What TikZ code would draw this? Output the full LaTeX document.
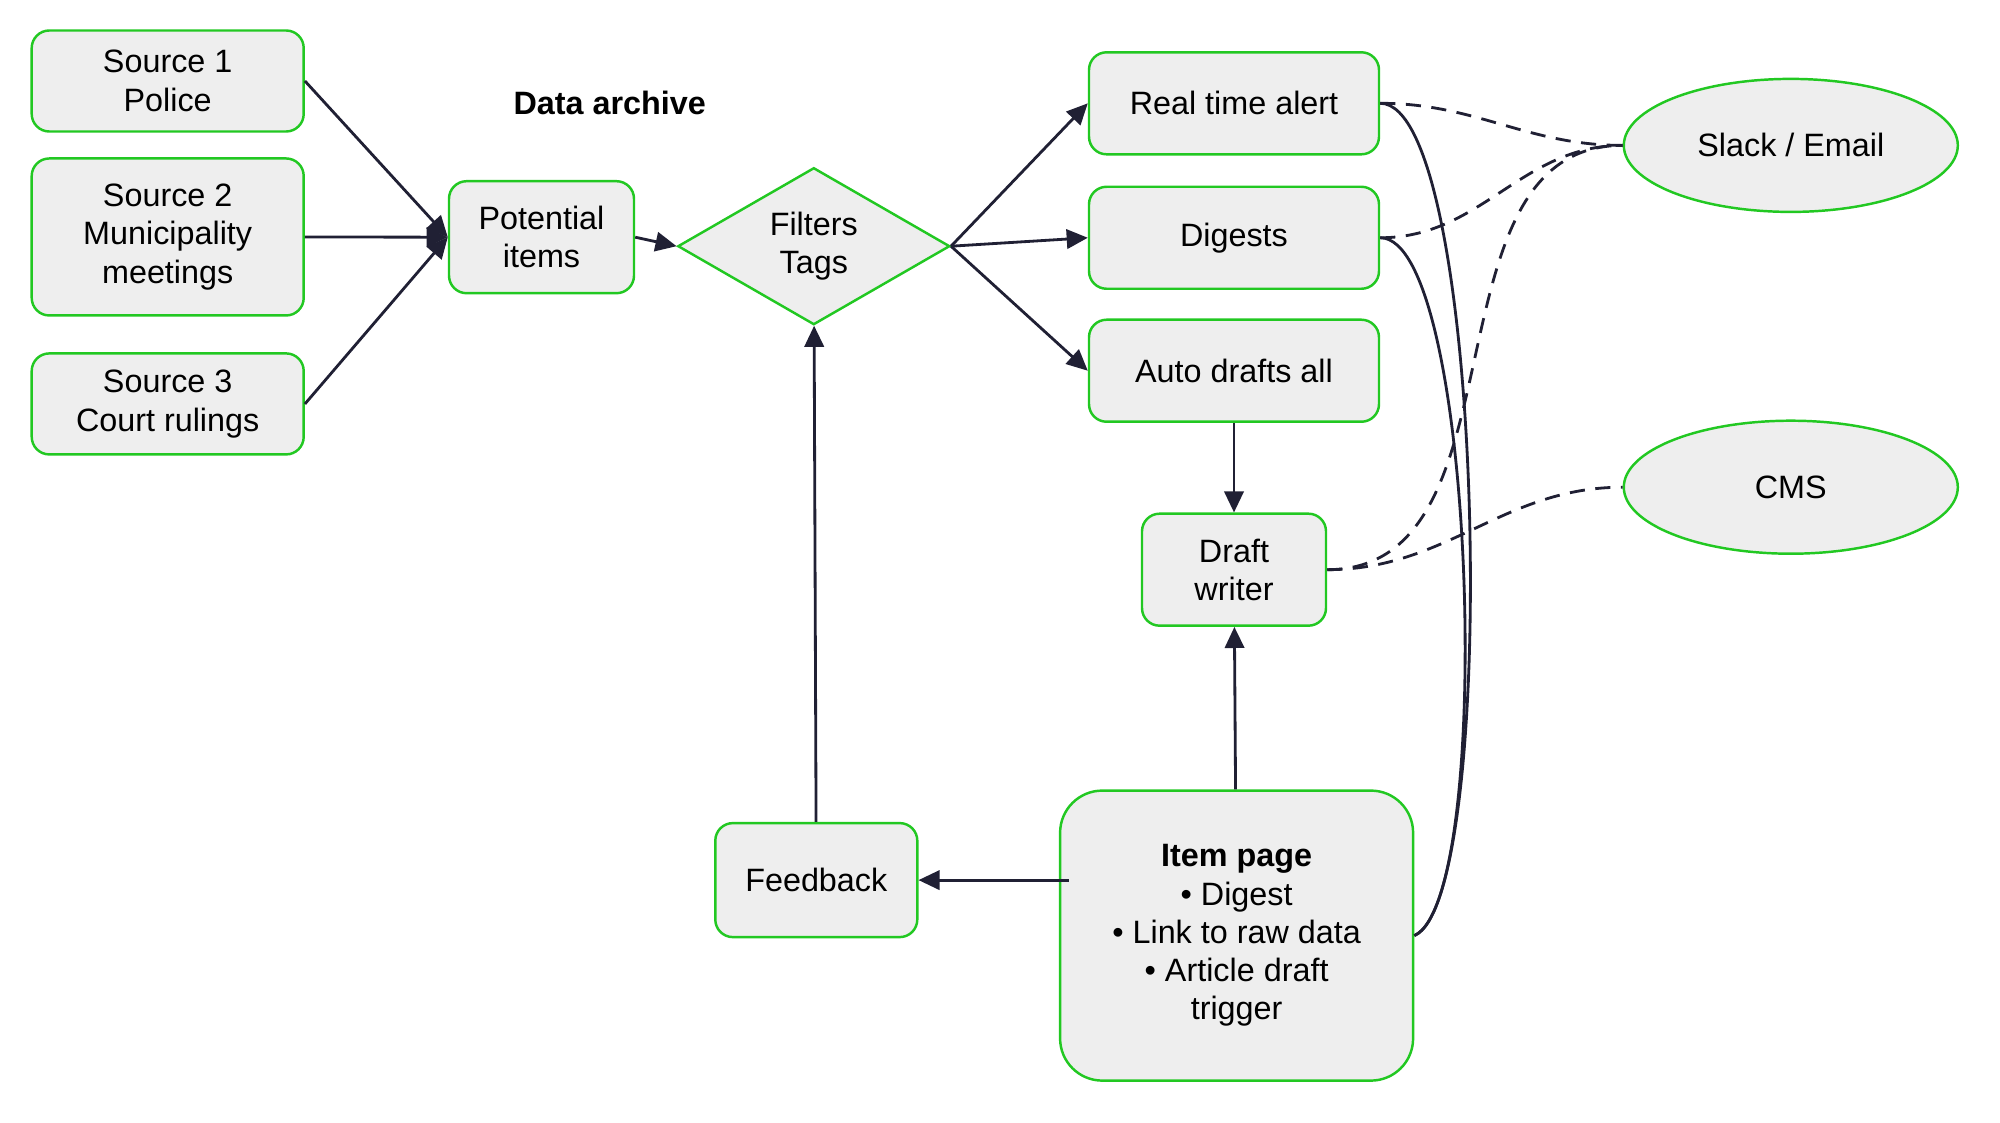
\documentclass[tikz,border=0pt]{standalone}
\usepackage{fontspec}
\setmainfont{Liberation Sans}
\usepackage{tikz}
\usetikzlibrary{positioning}
\usetikzlibrary{shapes,arrows.meta}
\definecolor{boxgreen}{RGB}{34,200,34}
\definecolor{boxfill}{RGB}{238,238,238}
\definecolor{linecol}{RGB}{32,32,52}
\tikzstyle{block} = [rectangle, draw=boxgreen, fill=boxfill, line width=0.7pt,
    align=center, rounded corners=5pt, minimum width=2.72cm, minimum height=1.01cm, inner sep=2pt]
\tikzstyle{decision} = [diamond, draw=boxgreen, fill=boxfill, line width=0.7pt,
    align=center, minimum width=2.72cm, minimum height=1.57cm, inner sep=0pt]
\tikzstyle{cloud} = [ellipse, draw=boxgreen, fill=boxfill, line width=0.7pt,
    minimum width=3.34cm, minimum height=1.33cm]
\tikzstyle{line} = [draw=linecol, line width=0.8pt, -{Triangle[length=6pt,width=5.5pt]}]
\tikzstyle{link} = [draw=linecol, line width=0.8pt]
\tikzstyle{dashlink} = [link, dash pattern=on 4.3pt off 3pt]

\begin{document}
\begin{tikzpicture}[font=\fontsize{9.2}{10.9}\selectfont]
    \useasboundingbox (0,0) rectangle (20,-11.23);
        % Nodes
    \node [block] (src1) at (1.677,-0.81) {Source 1\\Police};
    \node [block, below = 0.245cm of src1, minimum height=1.57cm] (src2) {Source 2\\Municipality\\meetings};
    \node [block, below = 0.355cm of src2] (src3) {Source 3\\Court rulings};
    \node [block, minimum width=1.85cm, minimum height=1.12cm] (pot) at (5.415,-2.372) {Potential\\items};
    \node (archive) at (6.097,-1.033) {\textbf{Data archive}};
    \node [decision] (filt) at (8.138,-2.462) {Filters\\Tags};
    \node [block, minimum width=2.9cm, minimum height=1.02cm] (rta) at (12.34,-1.033) {Real time alert};
    \node [block, minimum width=2.9cm, minimum height=1.02cm, below = 0.3cm of rta] (dig) {Digests};
    \node [block, minimum width=2.9cm, minimum height=1.02cm, below = 0.285cm of dig] (auto) {Auto drafts all};
    \node [block, minimum width=1.84cm, minimum height=1.12cm, below = 0.895cm of auto] (draft) {Draft\\writer};
    \node [cloud] (slack) at (17.908,-1.454) {Slack / Email};
    \node [cloud] (cms) at (17.908,-4.872) {CMS};
    \node [block, minimum width=2.02cm, minimum height=1.14cm] (fb) at (8.163,-8.801) {Feedback};
    \node [block, minimum width=3.53cm, minimum height=2.9cm, rounded corners=12pt] (item) at (12.366,-9.356)
        {\textbf{Item page}\\• Digest\\• Link to raw data\\• Article draft\\trigger};
        % Edges
    \path [line] (src1.east) -- (pot.west);
    \path [line] (src2.east) -- (pot.west);
    \path [line] (src3.east) -- (pot.west);
    \path [line] (pot.east) -- (filt.west);
    \path [line] (filt.east) -- (rta.west);
    \path [line] (filt.east) -- (dig.west);
    \path [line] (filt.east) -- (auto.west);
    \path [line] (auto) -- (draft);
    \path [line] (item) -- (draft);
    \path [line] ([xshift=0.1cm]item.west |- fb) -- (fb.east);
    \path [line] (fb) -- (filt);
    \path [link] (rta.east) .. controls +(1.06,0) and +(0.86,0.36) .. (item.east);
    \path [link] (dig.east) .. controls +(0.96,0) and +(0.81,0.36) .. (item.east);
    \path [dashlink] (rta.east) to [out=0, in=180] (slack.west);
    \path [dashlink] (dig.east) to [out=0, in=180] (slack.west);
    \path [dashlink] (draft.east) to [out=0, in=180] (slack.west);
    \path [dashlink] (draft.east) to [out=0, in=180] (cms.west);
\end{tikzpicture}
\end{document}
